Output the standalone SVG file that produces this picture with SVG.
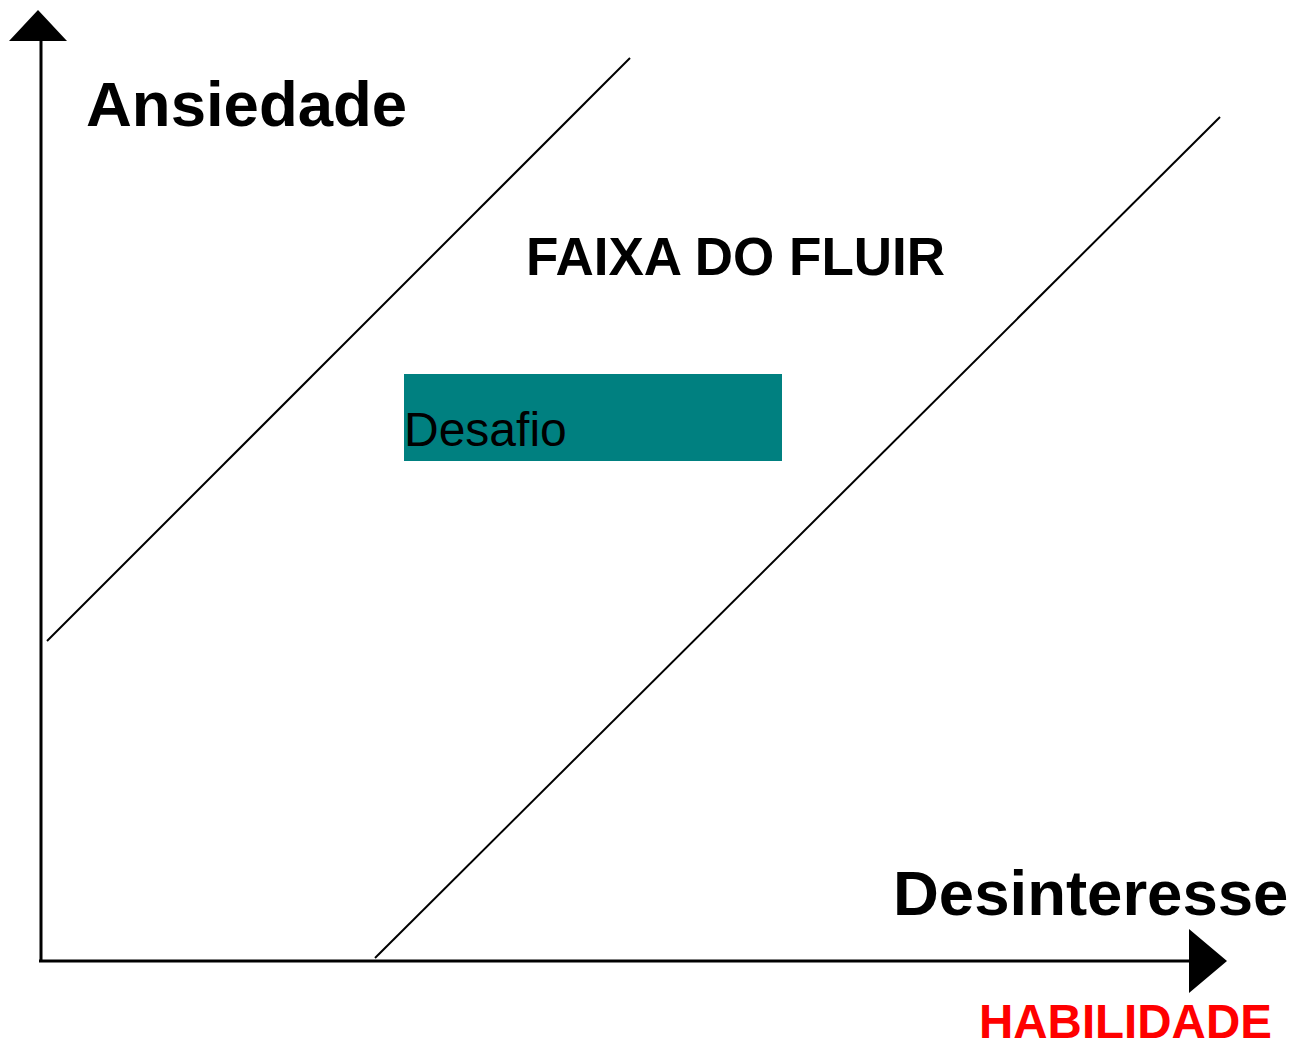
<svg xmlns="http://www.w3.org/2000/svg" width="1297" height="1046" viewBox="0 0 1297 1046">
<style>
.ax{stroke:#000;stroke-width:3;fill:none}
.dg{stroke:#000;stroke-width:2;fill:none}
.b{font-family:"Liberation Sans",Arial,sans-serif;font-weight:bold;fill:#000}
</style>
<rect width="1297" height="1046" fill="#fff"/>
<g id="connectors">
<line class="ax" x1="41" y1="962" x2="41" y2="40"/>
<polygon points="38,10 67,41 9,41" fill="#000"/>
<line class="ax" x1="39" y1="961" x2="1190" y2="961"/>
<polygon points="1189,929 1227,961 1189,993" fill="#000"/>
<line class="dg" x1="47" y1="641" x2="630" y2="58"/>
<line class="dg" x1="375" y1="958" x2="1220" y2="117"/>
</g>
<g id="ansiedade"><text class="b" x="86" y="126" font-size="63.5">Ansiedade</text></g>
<g id="faixa"><text class="b" x="526" y="275" font-size="53">FAIXA DO FLUIR</text></g>
<g id="desafio">
<rect x="404" y="374" width="378" height="87" fill="#008080"/>
<text x="404" y="446" font-family="'Liberation Sans',Arial,sans-serif" font-size="48" fill="#000">Desafio</text>
</g>
<g id="desinteresse"><text class="b" x="893" y="915" font-size="63.5">Desinteresse</text></g>
<g id="habilidade"><text class="b" x="979" y="1038" font-size="47.5" style="fill:#ff0000">HABILIDADE</text></g>
</svg>
